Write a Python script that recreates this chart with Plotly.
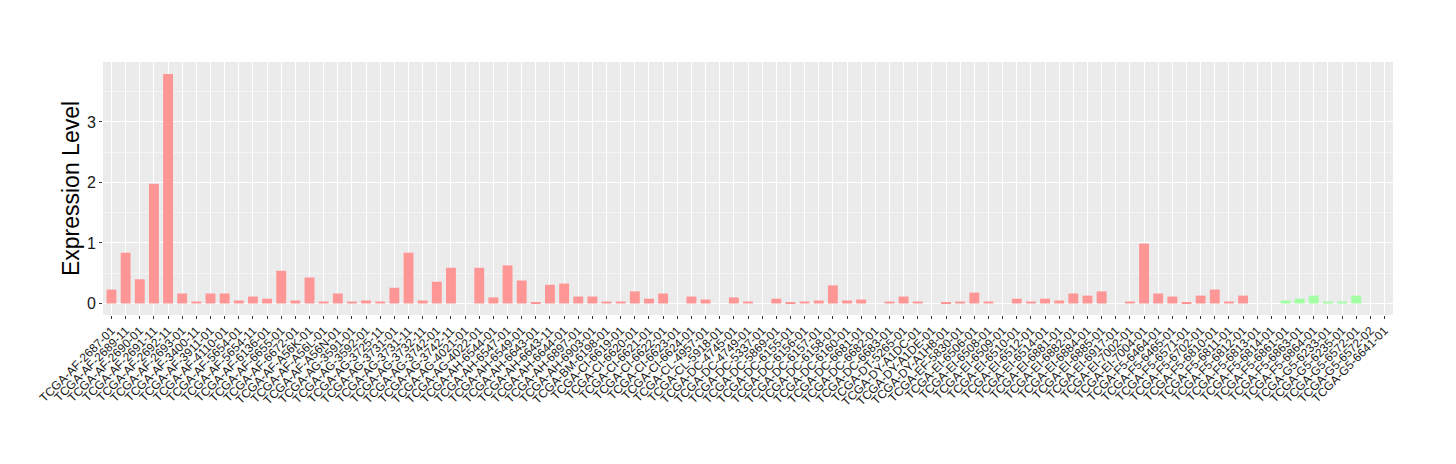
import plotly.graph_objects as go

samples = [
    "TCGA-AF-2687-01", "TCGA-AF-2689-11", "TCGA-AF-2690-01", "TCGA-AF-2691-11", "TCGA-AF-2692-11",
    "TCGA-AF-2693-01", "TCGA-AF-3400-11", "TCGA-AF-3911-01", "TCGA-AF-4110-01", "TCGA-AF-5654-01",
    "TCGA-AF-5654-11", "TCGA-AF-6136-01", "TCGA-AF-6655-01", "TCGA-AF-6672-01", "TCGA-AF-A56K-01",
    "TCGA-AF-A56L-01", "TCGA-AF-A56N-01", "TCGA-AG-3591-01", "TCGA-AG-3592-01", "TCGA-AG-3725-11",
    "TCGA-AG-3731-01", "TCGA-AG-3731-11", "TCGA-AG-3732-11", "TCGA-AG-3742-01", "TCGA-AG-3742-11",
    "TCGA-AG-4021-01", "TCGA-AG-4022-01", "TCGA-AH-6544-01", "TCGA-AH-6547-01", "TCGA-AH-6549-01",
    "TCGA-AH-6643-01", "TCGA-AH-6643-11", "TCGA-AH-6644-01", "TCGA-AH-6897-01", "TCGA-AH-6903-01",
    "TCGA-BM-6198-01", "TCGA-CI-6619-01", "TCGA-CI-6620-01", "TCGA-CI-6621-01", "TCGA-CI-6622-01",
    "TCGA-CI-6623-01", "TCGA-CI-6624-01", "TCGA-CL-4957-01", "TCGA-CL-5918-01", "TCGA-DC-4745-01",
    "TCGA-DC-4749-01", "TCGA-DC-5337-01", "TCGA-DC-5869-01", "TCGA-DC-6155-01", "TCGA-DC-6156-01",
    "TCGA-DC-6157-01", "TCGA-DC-6158-01", "TCGA-DC-6160-01", "TCGA-DC-6681-01", "TCGA-DC-6682-01",
    "TCGA-DC-6683-01", "TCGA-DT-5265-01", "TCGA-DY-A1DC-01", "TCGA-DY-A1DE-01", "TCGA-DY-A1H8-01",
    "TCGA-EF-5830-01", "TCGA-EI-6506-01", "TCGA-EI-6508-01", "TCGA-EI-6509-01", "TCGA-EI-6510-01",
    "TCGA-EI-6512-01", "TCGA-EI-6514-01", "TCGA-EI-6881-01", "TCGA-EI-6882-01", "TCGA-EI-6884-01",
    "TCGA-EI-6885-01", "TCGA-EI-6917-01", "TCGA-EI-7002-01", "TCGA-EI-7004-01", "TCGA-F5-6464-01",
    "TCGA-F5-6465-01", "TCGA-F5-6571-01", "TCGA-F5-6702-01", "TCGA-F5-6810-01", "TCGA-F5-6811-01",
    "TCGA-F5-6812-01", "TCGA-F5-6813-01", "TCGA-F5-6814-01", "TCGA-F5-6861-01", "TCGA-F5-6863-01",
    "TCGA-F5-6864-01", "TCGA-G5-6233-01", "TCGA-G5-6235-01", "TCGA-G5-6572-01", "TCGA-G5-6572-02",
    "TCGA-G5-6641-01",
]

expression = [
    0.23, 0.84, 0.40, 1.98, 3.79, 0.165, 0.033, 0.165, 0.165, 0.05,
    0.115, 0.08, 0.54, 0.05, 0.43, 0.033, 0.165, 0.033, 0.05, 0.033,
    0.26, 0.84, 0.05, 0.36, 0.59, 0.0, 0.59, 0.10, 0.63, 0.38,
    0.016, 0.31, 0.33, 0.115, 0.115, 0.033, 0.033, 0.20, 0.08, 0.165,
    0.0, 0.115, 0.066, 0.0, 0.10, 0.033, 0.0, 0.08, 0.016, 0.033,
    0.05, 0.30, 0.05, 0.066, 0.0, 0.033, 0.115, 0.033, 0.0, 0.016,
    0.033, 0.18, 0.033, 0.0, 0.08, 0.033, 0.08, 0.05, 0.165, 0.13,
    0.20, 0.0, 0.033, 0.99, 0.165, 0.115, 0.016, 0.13, 0.23, 0.033,
    0.13, 0.0, 0.0, 0.05, 0.08, 0.13, 0.033, 0.033, 0.13, 0.0,
    0.0,
]

groups = ["A"] * 83 + ["B"] * 8

group_colors = {"A": "#FF9696", "B": "#A3FFA3"}
colors = [group_colors[g] for g in groups]

fig = go.Figure(
    go.Bar(
        x=samples,
        y=expression,
        marker=dict(color=colors, line=dict(width=0)),
        width=0.7,
        showlegend=False,
    )
)

# page body has an 8px default margin; margins compensate for it
fig.update_layout(
    width=1448,
    height=456,
    margin=dict(l=95, r=63, t=54, b=149),
    paper_bgcolor="white",
    plot_bgcolor="#EBEBEB",
    font=dict(family="Liberation Sans, Arial, sans-serif", color="#1A1A1A"),
    bargap=0.3,
)

fig.update_xaxes(
    type="category",
    categoryorder="array",
    categoryarray=samples,
    range=[-0.6, len(samples) - 0.4],
    tickangle=-45,
    tickfont=dict(size=12, color="#1A1A1A"),
    showgrid=True,
    gridcolor="white",
    gridwidth=1.1,
    ticks="outside",
    ticklen=3,
    tickcolor="#333333",
    tickwidth=1,
    showline=False,
    zeroline=False,
    automargin=False,
)

fig.update_yaxes(
    range=[-0.19, 3.99],
    tickvals=[0, 1, 2, 3],
    ticktext=["0", "1", "2", "3"],
    tickfont=dict(size=16, color="#1A1A1A"),
    showgrid=True,
    gridcolor="white",
    gridwidth=1.1,
    minor=dict(tickvals=[0.5, 1.5, 2.5, 3.5], showgrid=True, gridcolor="#F5F5F5", gridwidth=0.6),
    ticks="outside",
    ticklen=3,
    tickcolor="#333333",
    zeroline=False,
    automargin=False,
    title=dict(text="Expression Level", font=dict(size=23, color="#000000"), standoff=0),
)

fig.write_html("out.html")
